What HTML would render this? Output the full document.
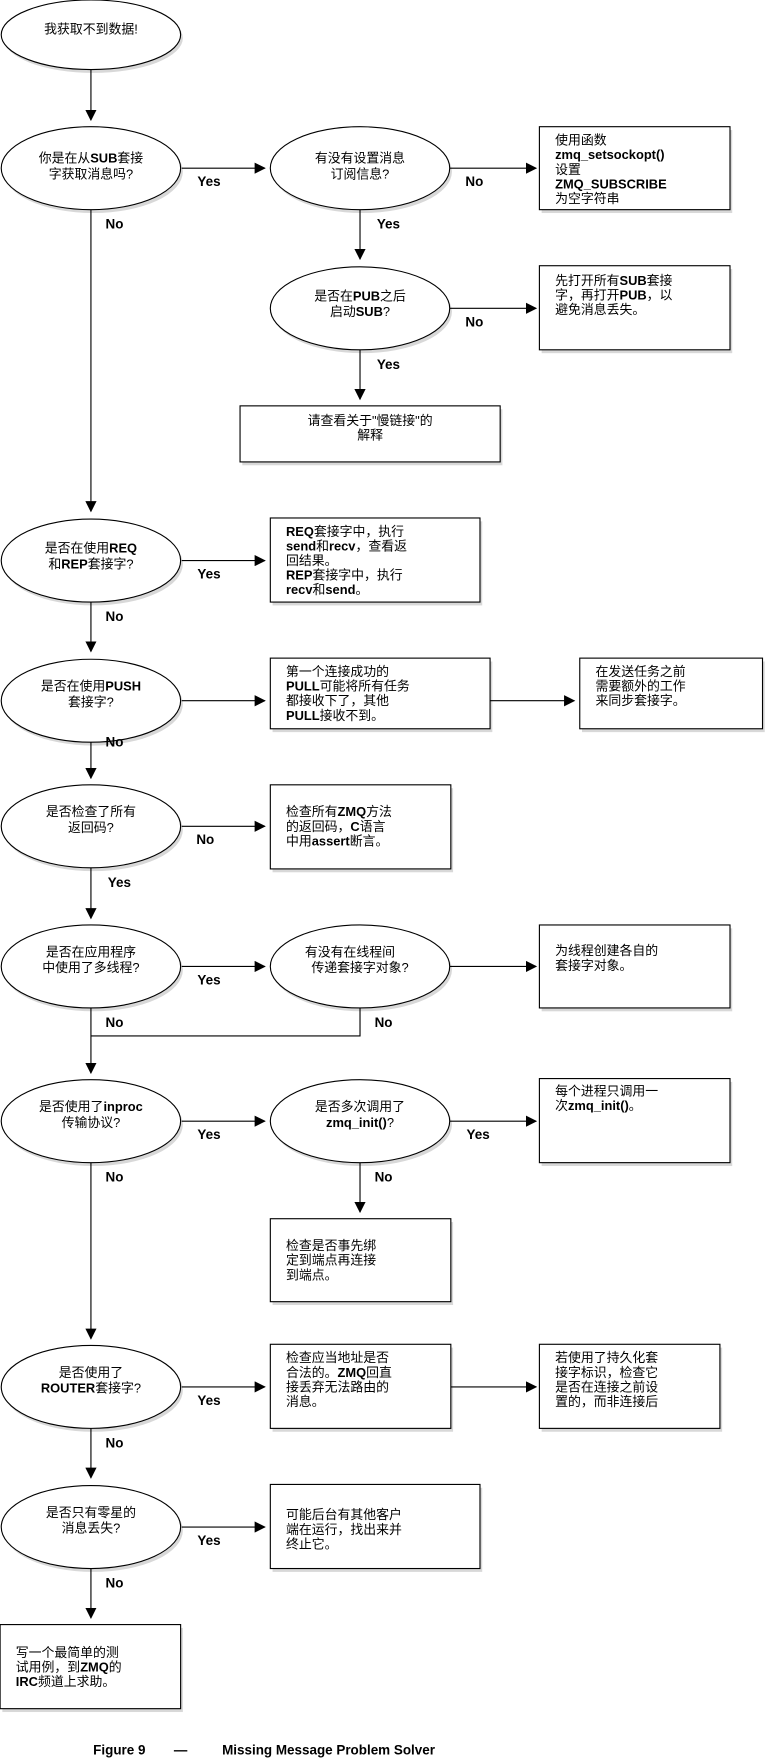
<!DOCTYPE html>
<html><head><meta charset="utf-8"><style>
html,body{margin:0;padding:0;background:#fff;}
svg{display:block;}
text{font-family:"Liberation Sans","Noto Sans CJK SC",sans-serif;font-size:11.5px;fill:#000;}
.l{font-weight:bold;font-size:12px;}
.c{text-anchor:middle;}
.b{font-weight:bold;}
</style></head><body>
<svg width="766" height="1758" viewBox="0 0 683 1568" xmlns="http://www.w3.org/2000/svg">
<defs>
<marker id="a" markerWidth="10" markerHeight="10" refX="9" refY="5" orient="auto" markerUnits="userSpaceOnUse"><path d="M0,0 L10,5 L0,10 z" fill="#000"/></marker>
</defs>
<g fill="#d8d8d8" stroke="none">
<ellipse cx="83" cy="34" rx="80" ry="31"/>
<ellipse cx="83" cy="153" rx="80" ry="37"/><ellipse cx="323" cy="153" rx="80" ry="37"/><ellipse cx="323" cy="278" rx="80" ry="37"/>
<ellipse cx="83" cy="503" rx="80" ry="37"/><ellipse cx="83" cy="628" rx="80" ry="37"/><ellipse cx="83" cy="740" rx="80" ry="37"/>
<ellipse cx="83" cy="865" rx="80" ry="37"/><ellipse cx="323" cy="865" rx="80" ry="37"/><ellipse cx="83" cy="1003" rx="80" ry="37"/>
<ellipse cx="323" cy="1003" rx="80" ry="37"/><ellipse cx="83" cy="1240" rx="80" ry="37"/><ellipse cx="83" cy="1365" rx="80" ry="37"/>
<rect x="483" y="116" width="170" height="74"/><rect x="483" y="240" width="170" height="75"/><rect x="216" y="365" width="232" height="50"/>
<rect x="243" y="465" width="187" height="75"/><rect x="243" y="590" width="196" height="63"/><rect x="519" y="590" width="163" height="63"/>
<rect x="243" y="703" width="161" height="75"/><rect x="483" y="828" width="170" height="74"/><rect x="483" y="965" width="170" height="75"/>
<rect x="243" y="1090" width="161" height="74"/><rect x="243" y="1202" width="161" height="75"/><rect x="483" y="1202" width="161" height="75"/>
<rect x="243" y="1327" width="187" height="75"/><rect x="2" y="1452" width="161" height="75"/>
</g>
<g fill="#fff" stroke="#000" stroke-width="1">
<ellipse cx="81" cy="31" rx="80" ry="31"/>
<ellipse cx="81" cy="150" rx="80" ry="37"/><ellipse cx="321" cy="150" rx="80" ry="37"/><ellipse cx="321" cy="275" rx="80" ry="37"/>
<ellipse cx="81" cy="500" rx="80" ry="37"/><ellipse cx="81" cy="625" rx="80" ry="37"/><ellipse cx="81" cy="737" rx="80" ry="37"/>
<ellipse cx="81" cy="862" rx="80" ry="37"/><ellipse cx="321" cy="862" rx="80" ry="37"/><ellipse cx="81" cy="1000" rx="80" ry="37"/>
<ellipse cx="321" cy="1000" rx="80" ry="37"/><ellipse cx="81" cy="1237" rx="80" ry="37"/><ellipse cx="81" cy="1362" rx="80" ry="37"/>
<rect x="481" y="113" width="170" height="74"/><rect x="481" y="237" width="170" height="75"/><rect x="214" y="362" width="232" height="50"/>
<rect x="241" y="462" width="187" height="75"/><rect x="241" y="587" width="196" height="63"/><rect x="517" y="587" width="163" height="63"/>
<rect x="241" y="700" width="161" height="75"/><rect x="481" y="825" width="170" height="74"/><rect x="481" y="962" width="170" height="75"/>
<rect x="241" y="1087" width="161" height="74"/><rect x="241" y="1199" width="161" height="75"/><rect x="481" y="1199" width="161" height="75"/>
<rect x="241" y="1324" width="187" height="75"/><rect x="0" y="1449" width="161" height="75"/>
</g>
<g stroke="#000" stroke-width="1" fill="none" marker-end="url(#a)">
<line x1="81" y1="62" x2="81" y2="107"/>
<line x1="162" y1="150" x2="236" y2="150"/><line x1="401" y1="150" x2="478" y2="150"/>
<line x1="321" y1="187" x2="321" y2="231"/><line x1="401" y1="275" x2="478" y2="275"/><line x1="321" y1="312" x2="321" y2="356"/>
<line x1="81" y1="187" x2="81" y2="456"/>
<line x1="162" y1="500" x2="236" y2="500"/><line x1="81" y1="537" x2="81" y2="581"/>
<line x1="162" y1="625" x2="236" y2="625"/><line x1="437" y1="625" x2="512" y2="625"/><line x1="81" y1="662" x2="81" y2="694"/>
<line x1="162" y1="737" x2="236" y2="737"/><line x1="81" y1="774" x2="81" y2="819"/>
<line x1="162" y1="862" x2="236" y2="862"/><line x1="401" y1="862" x2="478" y2="862"/>
<line x1="81" y1="899" x2="81" y2="957"/>
<line x1="162" y1="1000" x2="236" y2="1000"/><line x1="401" y1="1000" x2="478" y2="1000"/><line x1="321" y1="1037" x2="321" y2="1081"/>
<line x1="81" y1="1037" x2="81" y2="1194"/>
<line x1="162" y1="1237" x2="236" y2="1237"/><line x1="402" y1="1237" x2="478" y2="1237"/><line x1="81" y1="1274" x2="81" y2="1318"/>
<line x1="162" y1="1362" x2="236" y2="1362"/><line x1="81" y1="1399" x2="81" y2="1443"/>
</g>
<polyline points="321,899 321,924 81,924" stroke="#000" fill="none"/>
<g class="l">
<text x="176" y="166" class="l">Yes</text><text x="415" y="166" class="l">No</text><text x="94" y="204" class="l">No</text>
<text x="336" y="204" class="l">Yes</text><text x="415" y="291" class="l">No</text><text x="336" y="329" class="l">Yes</text>
<text x="176" y="516" class="l">Yes</text><text x="94" y="554" class="l">No</text><text x="94" y="666" class="l">No</text>
<text x="175" y="753" class="l">No</text><text x="96" y="791" class="l">Yes</text><text x="176" y="878" class="l">Yes</text>
<text x="94" y="916" class="l">No</text><text x="334" y="916" class="l">No</text><text x="176" y="1016" class="l">Yes</text>
<text x="416" y="1016" class="l">Yes</text><text x="94" y="1054" class="l">No</text><text x="334" y="1054" class="l">No</text>
<text x="176" y="1253" class="l">Yes</text><text x="94" y="1291" class="l">No</text><text x="176" y="1378" class="l">Yes</text><text x="94" y="1416" class="l">No</text>
</g>
<g class="c">
<text x="81" y="30" class="c">我获取不到数据!</text>
<text x="81" y="145" class="c">你是在从<tspan class="b">SUB</tspan>套接</text><text x="81" y="159" class="c">字获取消息吗?</text>
<text x="321" y="145" class="c">有没有设置消息</text><text x="321" y="159" class="c">订阅信息?</text>
<text x="321" y="268" class="c">是否在<tspan class="b">PUB</tspan>之后</text><text x="321" y="282" class="c">启动<tspan class="b">SUB</tspan>?</text>
<text x="330" y="379" class="c">请查看关于"慢链接"的</text><text x="330" y="392" class="c">解释</text>
<text x="81" y="493" class="c">是否在使用<tspan class="b">REQ</tspan></text><text x="81" y="507" class="c">和<tspan class="b">REP</tspan>套接字?</text>
<text x="81" y="616" class="c">是否在使用<tspan class="b">PUSH</tspan></text><text x="81" y="630" class="c">套接字?</text>
<text x="81" y="728" class="c">是否检查了所有</text><text x="81" y="742" class="c">返回码?</text>
<text x="81" y="853" class="c">是否在应用程序</text><text x="81" y="867" class="c">中使用了多线程?</text>
<text x="312" y="853" class="c">有没有在线程间</text><text x="321" y="867" class="c">传递套接字对象?</text>
<text x="81" y="991" class="c">是否使用了<tspan class="b">inproc</tspan></text><text x="81" y="1005" class="c">传输协议?</text>
<text x="321" y="991" class="c">是否多次调用了</text><text x="321" y="1005" class="c"><tspan class="b">zmq_init()</tspan>?</text>
<text x="81" y="1228" class="c">是否使用了</text><text x="81" y="1242" class="c"><tspan class="b">ROUTER</tspan>套接字?</text>
<text x="81" y="1353" class="c">是否只有零星的</text><text x="81" y="1367" class="c">消息丢失?</text>
</g>
<g>
<text x="495" y="129">使用函数</text><text x="495" y="142" class="b">zmq_setsockopt()</text><text x="495" y="155">设置</text><text x="495" y="168" class="b">ZMQ_SUBSCRIBE</text><text x="495" y="181">为空字符串</text>
<text x="495" y="254">先打开所有<tspan class="b">SUB</tspan>套接</text><text x="495" y="267">字，再打开<tspan class="b">PUB</tspan>，以</text><text x="495" y="280">避免消息丢失。</text>
<text x="255" y="478"><tspan class="b">REQ</tspan>套接字中，执行</text><text x="255" y="491"><tspan class="b">send</tspan>和<tspan class="b">recv</tspan>，查看返</text><text x="255" y="504">回结果。</text><text x="255" y="517"><tspan class="b">REP</tspan>套接字中，执行</text><text x="255" y="530"><tspan class="b">recv</tspan>和<tspan class="b">send</tspan>。</text>
<text x="255" y="603">第一个连接成功的</text><text x="255" y="616"><tspan class="b">PULL</tspan>可能将所有任务</text><text x="255" y="629">都接收下了，其他</text><text x="255" y="642"><tspan class="b">PULL</tspan>接收不到。</text>
<text x="531" y="603">在发送任务之前</text><text x="531" y="616">需要额外的工作</text><text x="531" y="629">来同步套接字。</text>
<text x="255" y="728">检查所有<tspan class="b">ZMQ</tspan>方法</text><text x="255" y="741">的返回码，<tspan class="b">C</tspan>语言</text><text x="255" y="754">中用<tspan class="b">assert</tspan>断言。</text>
<text x="495" y="852">为线程创建各自的</text><text x="495" y="865">套接字对象。</text>
<text x="495" y="977">每个进程只调用一</text><text x="495" y="990">次<tspan class="b">zmq_init()</tspan>。</text>
<text x="255" y="1115">检查是否事先绑</text><text x="255" y="1128">定到端点再连接</text><text x="255" y="1141">到端点。</text>
<text x="255" y="1215">检查应当地址是否</text><text x="255" y="1228">合法的。<tspan class="b">ZMQ</tspan>回直</text><text x="255" y="1241">接丢弃无法路由的</text><text x="255" y="1254">消息。</text>
<text x="495" y="1215">若使用了持久化套</text><text x="495" y="1228">接字标识，检查它</text><text x="495" y="1241">是否在连接之前设</text><text x="495" y="1254">置的，而非连接后</text>
<text x="255" y="1355">可能后台有其他客户</text><text x="255" y="1368">端在运行，找出来并</text><text x="255" y="1381">终止它。</text>
<text x="14" y="1478">写一个最简单的测</text><text x="14" y="1491">试用例，到<tspan class="b">ZMQ</tspan>的</text><text x="14" y="1504"><tspan class="b">IRC</tspan>频道上求助。</text>
</g>
<text x="83" y="1565" class="l">Figure 9</text><text x="155" y="1565" class="l">—</text><text x="198" y="1565" class="l">Missing Message Problem Solver</text>
</svg>
</body></html>
